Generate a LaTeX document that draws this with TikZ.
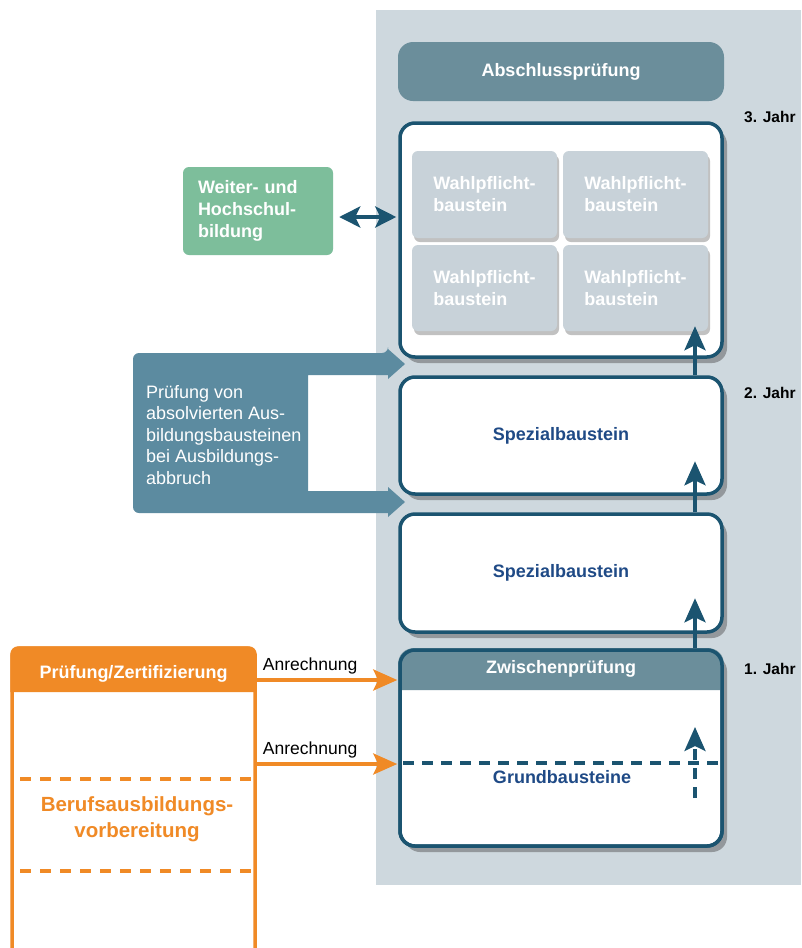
\documentclass[tikz,border=0pt]{standalone}
\usepackage{fontspec}
\setmainfont{Liberation Sans}
\usetikzlibrary{shadows,arrows.meta,calc}
\definecolor{panelc}{HTML}{CED8DE}
\definecolor{slatec}{HTML}{6B8E9B}
\definecolor{tealc}{HTML}{1B5470}
\definecolor{wc}{HTML}{C8D2D9}
\definecolor{bluec}{HTML}{5C8BA0}
\definecolor{greenc}{HTML}{7DBE9B}
\definecolor{orangec}{HTML}{F08A26}
\definecolor{navyc}{HTML}{1F4A86}
\tikzset{
  bigshadow/.style={drop shadow={shadow xshift=5pt, shadow yshift=-6pt, fill=black!70, opacity=0.45}},
  smallshadow/.style={drop shadow={shadow xshift=2pt, shadow yshift=-4pt, fill=black!60, opacity=0.4}},
  boldtxt/.style={font=\bfseries\fontsize{18}{22}\selectfont},
  yearbox/.style={draw=tealc, line width=3.5pt, fill=white, rounded corners=15pt, minimum width=322pt, inner sep=0pt, bigshadow, boldtxt, text=navyc},
  borderonly/.style={draw=tealc, line width=3.5pt, rounded corners=15pt, minimum width=322pt, inner sep=0pt},
  wbox/.style={fill=wc, rounded corners=6pt, minimum width=145pt, inner sep=0pt, align=left, text=white, boldtxt, smallshadow},
  jahr/.style={anchor=west, font=\bfseries\fontsize{15.5}{18}\selectfont, inner sep=0pt},
  ttip/.style={Stealth[length=24pt,width=21pt,inset=5pt]},
  uparr/.style={draw=tealc, line width=4pt, -{Stealth[length=24pt,width=21pt,inset=5pt]}},
  tealdash/.style={draw=tealc, line width=3.5pt, dash pattern=on 11pt off 8pt},
  odash/.style={draw=orangec, line width=3.5pt, dash pattern=on 11pt off 9pt},
  oarr/.style={draw=orangec, line width=4pt, -{Stealth[length=24pt,width=21pt,inset=5pt]}},
  anr/.style={font=\fontsize{17.5}{20}\selectfont, inner sep=0pt, text=black},
}
\begin{document}
\begin{tikzpicture}[x=1pt,y=-1pt]
\clip (0,0) rectangle (801,948);
\fill[white] (0,0) rectangle (801,948);
\fill[panelc] (376,10) rectangle (801,885);

% top exam
\node[fill=slatec, rounded corners=15pt, minimum width=326pt, minimum height=59pt, inner sep=0pt, text=white, boldtxt] (abs) at (561,71.5) {Abschlussprüfung};

% third year
\node[yearbox, minimum height=234pt] (y3) at (561,240) {};
\node[wbox, minimum height=87pt] (w1) at (484.5,194.5) {Wahlpflicht-\\baustein};
\node[wbox, minimum height=87pt] (w2) at (635.5,194.5) {Wahlpflicht-\\baustein};
\node[wbox, minimum height=86pt] (w3) at (484.5,288) {Wahlpflicht-\\baustein};
\node[wbox, minimum height=86pt] (w4) at (635.5,288) {Wahlpflicht-\\baustein};

% second year
\node[yearbox, minimum height=117pt] (sp2) at (561,435.5) {Spezialbaustein};
\node[yearbox, minimum height=118pt] (sp1) at (561,573) {Spezialbaustein};

% first year
\node[yearbox, minimum height=196pt] (y1) at (561,748) {};
\coordinate (hb) at (0,690);
\fill[slatec] (y1.west |- hb) {[rounded corners=15pt] -- (y1.north west) -- (y1.north east)} -- (y1.east |- hb) -- cycle;
\node[borderonly, minimum height=196pt] (y1b) at (y1) {};
\node[boldtxt, text=white, inner sep=0pt] (zp) at (561,669) {Zwischenprüfung};
\coordinate (dl) at (0,763);
\draw[tealdash] ($(y1.west |- dl)+(5,0)$) -- ($(y1.east |- dl)+(-3,0)$);
\node[boldtxt, text=navyc, inner sep=0pt] (gb) at (562,777) {Grundbausteine};
\coordinate (d0) at (695,798);
\coordinate (d1) at (695,727);
\draw[tealdash, -{Stealth[length=24pt,width=21pt,inset=5pt]}] (d0) -- (d1);

% year labels
\node[jahr] (j3) at (744,117) {3. Jahr};
\node[jahr] (j2) at (744,393) {2. Jahr};
\node[jahr] (j1) at (744,669) {1. Jahr};

% upward arrows
\coordinate (ax) at (695,0);
\draw[uparr, shorten >=-5pt] (sp2.north -| ax) -- (w4.south -| ax);
\draw[uparr] (sp1.north -| ax) -- ++(0,-51);
\draw[uparr] (y1.north -| ax) -- ++(0,-50);

% green box
\node[fill=greenc, rounded corners=6pt, minimum width=150pt, minimum height=88pt, inner xsep=15pt, inner ysep=0pt, text width=120pt, align=left, text=white, boldtxt] (wh) at (258,211) {Weiter- und\\Hochschul-\\bildung};
\coordinate (dy) at (0,217);
\draw[draw=tealc, line width=4pt, {Stealth[length=21pt,width=21pt,inset=5pt]}-{Stealth[length=21pt,width=21pt,inset=5pt]}] ($(wh.east |- dy)+(6,0)$) -- ($(y3.west |- dy)+(-2,0)$);

% blue C-shaped arrow block
\fill[bluec] (133,430) {[rounded corners=6pt] -- (133,353) -- (388,353)} -- (388,349) -- (405,364) -- (388,379) -- (388,375) -- (308,375) -- (308,491) -- (388,491) -- (388,487) -- (405,502) -- (388,517) -- (388,513) {[rounded corners=6pt] -- (133,513)} -- cycle;
\node[anchor=west, align=left, text=white, inner sep=0pt, font=\fontsize{18}{21.5}\selectfont] (pv) at (146,435) {Prüfung von\\absolvierten Aus-\\bildungsbausteinen\\bei Ausbildungs-\\abbruch};

% orange box
\node[draw=orangec, line width=3.5pt, fill=white, rounded corners=8pt, minimum width=243pt, minimum height=330pt, inner sep=0pt] (ob) at (133.5,813) {};
\coordinate (ob2) at (0,692);
\fill[orangec] (ob.west |- ob2) {[rounded corners=8pt] -- (ob.north west) -- (ob.north east)} -- (ob.east |- ob2) -- cycle;
\node[boldtxt, text=white, inner sep=0pt] (pz) at (133.5,674) {Prüfung/Zertifizierung};
\coordinate (l1) at (0,779);
\coordinate (l2) at (0,871);
\draw[odash] ($(ob.west |- l1)+(10,0)$) -- ($(ob.east |- l1)+(-5,0)$);
\draw[odash] ($(ob.west |- l2)+(10,0)$) -- ($(ob.east |- l2)+(-5,0)$);
\node[align=center, text=orangec, inner sep=0pt, font=\bfseries\fontsize{20.5}{26}\selectfont] (bv) at (137,819) {Berufsausbildungs-\\vorbereitung};

% orange arrows
\coordinate (r1) at (0,680);
\coordinate (r2) at (0,764);
\draw[oarr] (ob.east |- r1) -- ($(y1.west |- r1)+(-1,0)$) node[anr, pos=0.38, above=4pt] (a1) {Anrechnung};
\draw[oarr] (ob.east |- r2) -- ($(y1.west |- r2)+(-1,0)$) node[anr, pos=0.38, above=4pt] (a2) {Anrechnung};
\end{tikzpicture}
\end{document}
